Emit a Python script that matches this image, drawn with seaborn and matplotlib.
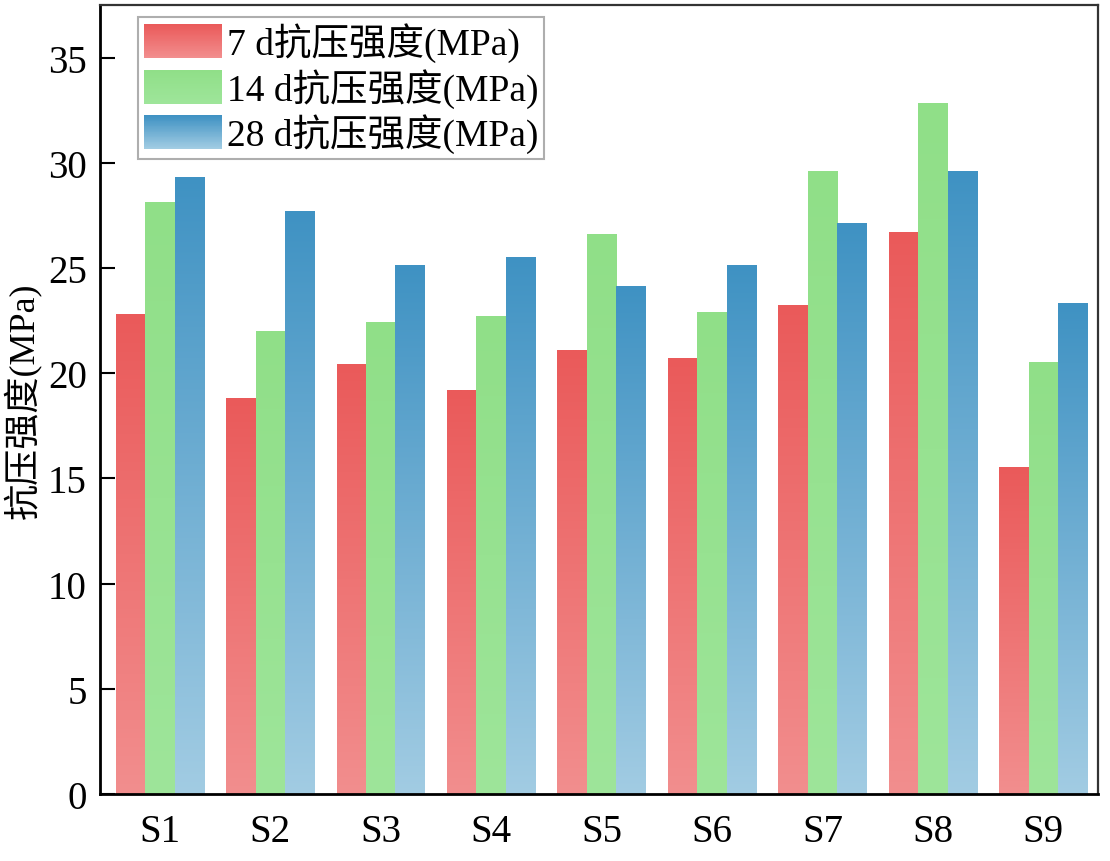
import numpy as np
import pandas as pd
import matplotlib
matplotlib.use("Agg")
import matplotlib.pyplot as plt
import seaborn as sns
from matplotlib.colors import LinearSegmentedColormap, to_rgb
from matplotlib.legend_handler import HandlerBase
from matplotlib.patches import Rectangle

# ---------------- data ----------------
samples = ["S1", "S2", "S3", "S4", "S5", "S6", "S7", "S8", "S9"]
series = ["7 d抗压强度(MPa)", "14 d抗压强度(MPa)", "28 d抗压强度(MPa)"]
d7 = [22.8, 18.8, 20.4, 19.2, 21.1, 20.7, 23.2, 26.7, 15.5]
d14 = [28.1, 22.0, 22.4, 22.7, 26.6, 22.9, 29.6, 32.8, 20.5]
d28 = [29.3, 27.7, 25.1, 25.5, 24.1, 25.1, 27.1, 29.6, 23.3]
y_ticks = [0, 5, 10, 15, 20, 25, 30, 35]
y_label = "抗压强度(MPa)"

top_colors = ["#EA5A5A", "#90DF88", "#3F92C3"]
bottom_colors = ["#F28E8E", "#9EE59A", "#A2CCE3"]

df = pd.DataFrame({
    "sample": samples * 3,
    "series": np.repeat(series, len(samples)),
    "value": d7 + d14 + d28,
})

sns.set_theme(style="ticks")
plt.rcParams["font.family"] = ["Liberation Serif", "Noto Sans CJK SC", "DejaVu Sans"]
plt.rcParams.update({"text.color": "black", "axes.labelcolor": "black",
                     "xtick.color": "black", "ytick.color": "black"})

W, H = 1110, 862
fig = plt.figure(figsize=(W / 100, H / 100), dpi=100)
ax = fig.add_axes([100 / W, 1 - 795 / H, 998 / W, (795 - 6) / H])

sns.barplot(data=df, x="sample", y="value", hue="series", palette=top_colors,
            saturation=1, width=0.8, ax=ax, legend=False, errorbar=None)

# gradient fill for each bar
color_map = {tuple(np.round(to_rgb(t), 3)): (t, b) for t, b in zip(top_colors, bottom_colors)}
grad = np.linspace(0, 1, 256).reshape(-1, 1)
for p in list(ax.patches):
    fc = tuple(np.round(p.get_facecolor()[:3], 3))
    if fc not in color_map:
        continue
    t, b = color_map[fc]
    cmap = LinearSegmentedColormap.from_list("g", [b, t])
    x0, w, h = p.get_x(), p.get_width(), p.get_height()
    ax.imshow(grad, extent=[x0, x0 + w, 0, h], origin="lower", cmap=cmap,
              aspect="auto", zorder=p.get_zorder(), interpolation="bilinear")
    p.set_visible(False)

ax.set_xlim(-0.543, 8.496)
ax.set_ylim(0, 37.5)
ax.set_yticks(y_ticks)
ax.set_xlabel("")
ax.set_ylabel(y_label, fontsize=26, labelpad=4, color="black")

ax.tick_params(axis="y", direction="in", length=11, width=1.5, labelsize=28, pad=9.5,
               color="black", labelcolor="black")
ax.tick_params(axis="x", length=0, labelsize=28, pad=14, labelcolor="black")
for s in ["left", "bottom"]:
    ax.spines[s].set_linewidth(2.0)
    ax.spines[s].set_color("black")
for s in ["top", "right"]:
    ax.spines[s].set_linewidth(1.6)
    ax.spines[s].set_color("#333333")
    ax.spines[s].set_visible(True)


class GradHandler(HandlerBase):
    def __init__(self, top, bottom, n=40):
        super().__init__()
        self.top = np.array(to_rgb(top))
        self.bottom = np.array(to_rgb(bottom))
        self.n = n

    def create_artists(self, legend, orig_handle, xdescent, ydescent,
                       width, height, fontsize, trans):
        arts = []
        for i in range(self.n):
            f = i / (self.n - 1)
            c = self.bottom * (1 - f) + self.top * f
            r = Rectangle((-xdescent, -ydescent + height * i / self.n), width,
                          height / self.n * 1.3, facecolor=c, edgecolor="none",
                          transform=trans)
            arts.append(r)
        return arts


handles = [Rectangle((0, 0), 1, 1, facecolor=t) for t in top_colors]
hmap = {h: GradHandler(t, b) for h, t, b in zip(handles, top_colors, bottom_colors)}
leg = ax.legend(handles, series, handler_map=hmap, loc="upper left",
                bbox_to_anchor=(0.038, 0.985), borderaxespad=0, fontsize=27,
                frameon=True, fancybox=False, edgecolor="#9a9a9a",
                handlelength=2.1, handleheight=1.0, handletextpad=0.12,
                labelspacing=0.15, borderpad=0.15, labelcolor="black")
leg.get_frame().set_linewidth(1.5)

fig.savefig("out.png", dpi=100)
